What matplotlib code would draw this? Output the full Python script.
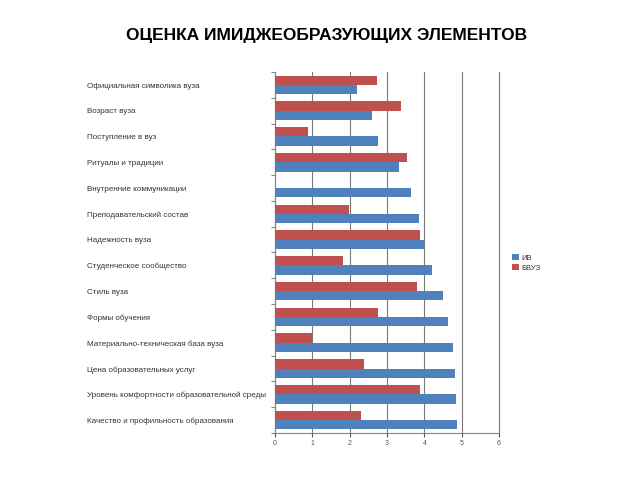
import matplotlib.pyplot as plt
import matplotlib.transforms as mtransforms
import numpy as np

categories = [
    "Официальная символика вуза",
    "Возраст вуза",
    "Поступление в вуз",
    "Ритуалы и традиции",
    "Внутренние коммуникации",
    "Преподавательский состав",
    "Надежность вуза",
    "Студенческое сообщество",
    "Стиль вуза",
    "Формы обучения",
    "Материально-техническая база вуза",
    "Цена образовательных услуг",
    "Уровень комфортности образовательной среды",
    "Качество и профильность образования",
]
iv = [2.19, 2.6, 2.76, 3.33, 3.64, 3.86, 3.99, 4.21, 4.49, 4.64, 4.77, 4.81, 4.84, 4.87]
bvuz = [2.72, 3.37, 0.89, 3.53, 0.0, 1.99, 3.88, 1.81, 3.80, 2.77, 1.0, 2.38, 3.88, 2.31]

plt.rcParams['font.family'] = ['Liberation Sans', 'DejaVu Sans']

fig = plt.figure(figsize=(6.4, 4.8), dpi=100)
ax = fig.add_axes([0.4297, 0.098, 0.35, 0.752])

y = np.arange(len(categories))
h = 0.36
ax.barh(y + h / 2, iv, height=h, color="#4F81BD", label="ИВ", zorder=3)
ax.barh(y - h / 2, bvuz, height=h, color="#C0504D", label="БВУЗ", zorder=3)

ax.set_xlim(0, 6)
ax.set_ylim(len(categories) - 0.5, -0.5)
ax.set_xticks(range(7))
ax.tick_params(axis='x', labelsize=5, colors="#555555", length=3, pad=2)
ax.xaxis.grid(True, color="#7a7a7a", linewidth=0.8, zorder=0)
for gl in ax.get_xgridlines():
    gl.set_clip_on(False)

ax.set_yticks(np.arange(-0.5, len(categories), 1.0))
ax.set_yticklabels([])
ax.tick_params(axis='y', length=3, color="#868686")

for s in ["top", "right"]:
    ax.spines[s].set_visible(False)
for s in ["left", "bottom"]:
    ax.spines[s].set_color("#868686")
    ax.spines[s].set_linewidth(0.8)

trans = mtransforms.blended_transform_factory(fig.transFigure, ax.transData)
for yi, name in zip(y, categories):
    ax.text(87 / 640, yi + 0.05, name, transform=trans, ha='left', va='center',
            fontsize=5.8, color="#333333")

handles, labels = ax.get_legend_handles_labels()
fig.legend(handles, labels, loc='upper left', bbox_to_anchor=(0.79, 0.485),
           frameon=False, fontsize=5.5, handlelength=0.8, handleheight=0.8,
           handletextpad=0.3, labelspacing=0.3, labelcolor="#333333")

fig.text(0.511, 0.927, "ОЦЕНКА ИМИДЖЕОБРАЗУЮЩИХ ЭЛЕМЕНТОВ", ha='center', va='center',
         fontsize=12.5, fontweight='bold', color="black")

fig.savefig("out.png", dpi=100)
